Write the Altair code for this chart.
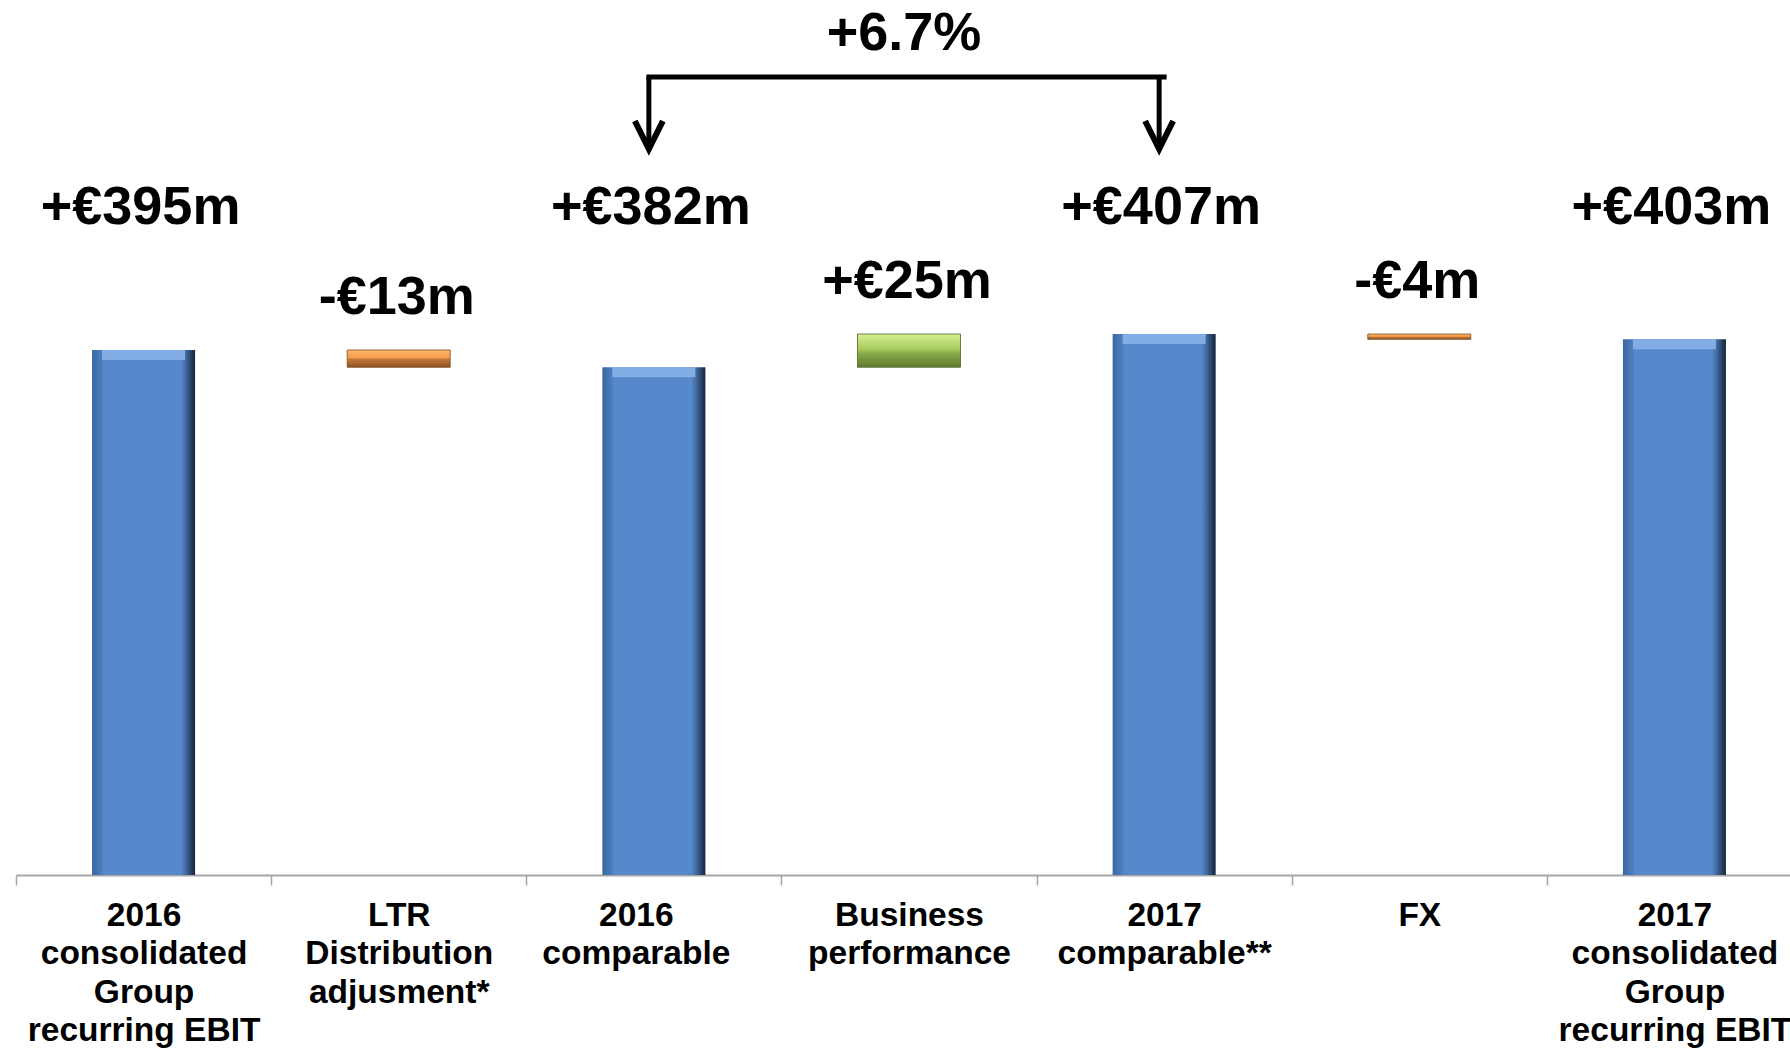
import altair as alt
import pandas as pd

# ---- data ----
categories = [
    "2016|consolidated|Group|recurring EBIT",
    "LTR|Distribution|adjusment*",
    "2016|comparable",
    "Business|performance",
    "2017|comparable**",
    "FX",
    "2017|consolidated|Group|recurring EBIT",
]
values = [395, -13, 382, 25, 407, -4, 403]
kinds = ["total", "delta", "total", "delta", "total", "delta", "total"]

growth_text = ["+6.7%"]
growth_from = [categories[2]]
growth_to = [categories[4]]
growth_at = [categories[3]]

# ---- build waterfall table from the arrays ----
rows = []
running = 0
for c, v, k in zip(categories, values, kinds):
    if k == "total":
        start, end = 0, v
        running = v
        kind = "total"
    else:
        start, end = running, running + v
        running = running + v
        kind = "up" if v > 0 else "down"
    text = ("+" if v >= 0 else "-") + "\u20ac" + str(abs(v)) + "m"
    rows.append(dict(cat=c, start=start, end=end, top=max(start, end), kind=kind, text=text))
df = pd.DataFrame(rows)

FONT = "Liberation Sans"
BIG = 54

xscale = alt.Scale(domain=categories, range=[0, 1786], paddingInner=0, paddingOuter=0)
yscale = alt.Scale(domain=[0, 658.3], nice=False, zero=True)

x_enc = alt.X(
    "cat:N",
    scale=xscale,
    sort=categories,
    axis=alt.Axis(
        title=None,
        labelExpr="split(datum.label, '|')",
        labelFontSize=33.5,
        labelFont=FONT,
        labelFontWeight="bold",
        labelColor="black",
        labelLineHeight=38.5,
        labelPadding=14,
        labelBaseline="top",
        labelAngle=0,
        labelLimit=0,
        labelOverlap=False,
        labelOffset={"condition": {"test": "datum.value === '2016|comparable'", "value": -18}, "value": 0},
        tickSize=10,
        tickBand="extent",
        tickColor="#A6A6A6",
        tickWidth=1.5,
        domainColor="#A6A6A6",
        domainWidth=2,
        grid=False,
    ),
)
y_enc = alt.Y("start:Q", scale=yscale, axis=None)

base = alt.Chart(df)

blue_grad = alt.Gradient(
    gradient="linear", x1=0, x2=1, y1=0, y2=0,
    stops=[
        alt.GradientStop(color="#3B679E", offset=0),
        alt.GradientStop(color="#4E80C0", offset=0.1),
        alt.GradientStop(color="#5689CC", offset=0.11),
        alt.GradientStop(color="#5689CC", offset=0.86),
        alt.GradientStop(color="#4672AC", offset=0.9),
        alt.GradientStop(color="#15233A", offset=1),
    ],
)
orange_grad = alt.Gradient(
    gradient="linear", x1=0, x2=0, y1=0, y2=1,
    stops=[
        alt.GradientStop(color="#FDB868", offset=0),
        alt.GradientStop(color="#F59B4B", offset=0.45),
        alt.GradientStop(color="#C27634", offset=0.55),
        alt.GradientStop(color="#8D5424", offset=1),
    ],
)
green_grad = alt.Gradient(
    gradient="linear", x1=0, x2=0, y1=0, y2=1,
    stops=[
        alt.GradientStop(color="#D6F08F", offset=0),
        alt.GradientStop(color="#A9CB5F", offset=0.45),
        alt.GradientStop(color="#86A848", offset=0.6),
        alt.GradientStop(color="#5E7A2E", offset=1),
    ],
)

totals = base.transform_filter(alt.datum.kind == "total").mark_bar(
    size=103, color=blue_grad
).encode(x=x_enc, y=y_enc, y2="end:Q")

highlight = base.transform_filter(alt.datum.kind == "total").mark_tick(
    size=83, thickness=10, color="#88B2E8", yOffset=5, opacity=0.9
).encode(x=x_enc, y=alt.Y("end:Q", scale=yscale, axis=None))

downs = base.transform_filter(alt.datum.kind == "down").mark_bar(
    size=103, color=orange_grad, stroke="#7A4A1E", strokeWidth=0.8
).encode(x=x_enc, y=y_enc, y2="end:Q")

ups = base.transform_filter(alt.datum.kind == "up").mark_bar(
    size=103, color=green_grad, stroke="#4F6426", strokeWidth=0.8
).encode(x=x_enc, y=y_enc, y2="end:Q")

total_labels = base.transform_filter(alt.datum.kind == "total").mark_text(
    font=FONT, fontWeight="bold", fontSize=BIG, color="black",
    baseline="alphabetic", align="center", xOffset=-3,
).encode(x=x_enc, y=alt.value(224), text="text:N")

delta_labels = base.transform_filter(alt.datum.kind != "total").mark_text(
    font=FONT, fontWeight="bold", fontSize=BIG, color="black",
    baseline="alphabetic", align="center", xOffset=-2, dy=-36,
).encode(x=x_enc, y=alt.Y("top:Q", scale=yscale, axis=None), text="text:N")

# ---- growth bracket ----
gdf = pd.DataFrame({"a": growth_from, "b": growth_to, "mid": growth_at, "t": growth_text})
vdf = pd.DataFrame({"cat": growth_from + growth_to})

bracket_h = alt.Chart(gdf).mark_rule(
    strokeWidth=5, color="black", strokeCap="square", xOffset=-5
).encode(
    x=alt.X("a:N", scale=xscale, sort=categories),
    x2="b:N",
    y=alt.value(77),
)
bracket_v = alt.Chart(vdf).mark_rule(
    strokeWidth=5, color="black", xOffset=-5
).encode(
    x=alt.X("cat:N", scale=xscale, sort=categories),
    y=alt.value(77),
    y2=alt.value(150),
)
heads = alt.Chart(vdf).mark_point(
    shape="M-1,-2L0,0L1,-2", size=784, filled=False, strokeWidth=6,
    color="black", opacity=1, xOffset=-5, strokeJoin="miter",
).encode(
    x=alt.X("cat:N", scale=xscale, sort=categories),
    y=alt.value(149),
)
growth_label = alt.Chart(gdf).mark_text(
    font=FONT, fontWeight="bold", fontSize=BIG, color="black",
    baseline="alphabetic", align="center", xOffset=-5,
).encode(
    x=alt.X("mid:N", scale=xscale, sort=categories),
    y=alt.value(50),
    text="t:N",
)

chart = alt.layer(
    totals, highlight, downs, ups, total_labels, delta_labels,
    bracket_h, bracket_v, heads, growth_label,
).properties(
    width=1774,
    height=875,
    autosize=alt.AutoSizeParams(type="none"),
    padding={"left": 16, "top": 0, "right": 0, "bottom": 173},
    background="white",
).configure_view(stroke=None)

chart.save("out.html", embed_options={"renderer": "svg", "actions": False})
